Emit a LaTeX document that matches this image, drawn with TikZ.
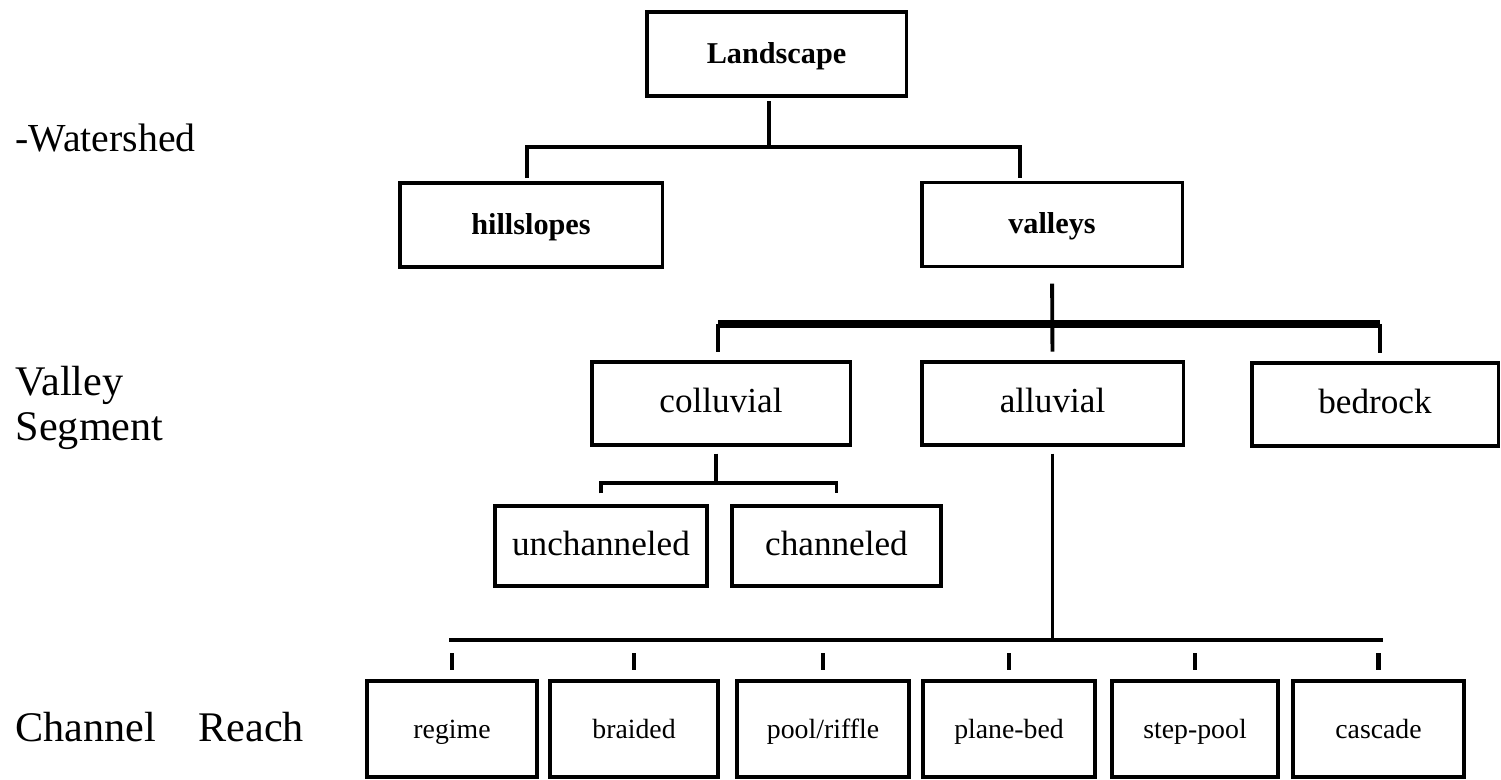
\documentclass[tikz,border=0pt]{standalone}
\usepackage{fontspec}
\setmainfont{Liberation Serif}
\begin{document}
\begin{tikzpicture}[x=0.01cm, y=-0.01cm,
  box/.style={draw, line width=0.9pt, inner sep=0pt, align=center, text height=1.6ex, text depth=0.45ex},
  toplevel/.style={box, font=\fontsize{8.6}{10}\selectfont\bfseries, minimum height=0.84cm},
  seglevel/.style={box, font=\fontsize{10}{12}\selectfont, minimum height=0.83cm},
  reachbox/.style={box, font=\fontsize{7.9}{9}\selectfont, minimum height=0.96cm},
  link/.style={line width=1.1pt},
  heavy/.style={line width=2pt},
  tick/.style={line width=1.2pt},
  scalelabel/.style={anchor=west, inner sep=0pt, align=left, font=\fontsize{12}{13}\selectfont}]
  \useasboundingbox (0,0) rectangle (1501,780);

  % scale labels on the left
  \node[scalelabel, font=\fontsize{11.3}{13}\selectfont] (wshed) at (15,138) {-Watershed};
  \node[scalelabel] (vseg) at (15,408) {Valley\\Segment};
  \node[scalelabel] (creach) at (15,727) {Channel\quad Reach};

  % watershed level
  \node[toplevel, minimum width=2.59cm] (land) at (776.5,54) {Landscape};
  \node[toplevel, minimum width=2.62cm] (hill) at (531,225) {hillslopes};
  \node[toplevel, minimum width=2.60cm] (valley) at (1052,224.5) {valleys};

  % valley segments
  \node[seglevel, minimum width=2.58cm] (colluv) at (721,403.5) {colluvial};
  \node[seglevel, minimum width=2.61cm] (alluv) at (1052.5,403.5) {alluvial};
  \node[seglevel, minimum width=2.46cm] (bedrock) at (1375,404.5) {bedrock};
  \node[seglevel, minimum width=2.12cm, minimum height=0.80cm] (unchan) at (601,546) {unchanneled};
  \node[seglevel, minimum width=2.09cm, minimum height=0.80cm] (chan) at (836.5,546) {channeled};

  % channel reaches
  \foreach \cx/\w/\txt [count=\i] in {452/1.70/regime, 634/1.68/braided, 823/1.72/{pool/riffle},
      1009/1.72/plane-bed, 1195/1.66/step-pool, 1378.5/1.71/cascade}
    \node[reachbox, minimum width=\w cm] (reach\i) at (\cx,729) {\txt};

  \coordinate (lsplit) at (769,147);
  \coordinate (hdrop) at (527,147);
  \coordinate (vdrop) at (1020,147);
  \draw[link, shorten <=1.1pt] (land.south -| lsplit) -- (lsplit);
  \draw[link, shorten <=0.9pt, shorten >=0.9pt] (hill.north -| hdrop) -- (hdrop) -- (vdrop) -- (valley.north -| vdrop);

  \coordinate (mleft) at (718,324);
  \coordinate (mright) at (1380,324);
  \draw[link, shorten <=4.4pt, shorten >=2.5pt] (valley.south) -- (alluv.north);
  \draw[heavy] (mleft) -- (mright);
  \draw[link, shorten >=2.5pt] (mleft) -- (colluv.north -| mleft);
  \draw[link, shorten >=2.5pt] (mright) -- (bedrock.north -| mright);

  \coordinate (csplit) at (716,483);
  \draw[link, shorten <=2pt] (colluv.south -| csplit) -- (csplit);
  \draw[link, shorten <=3.1pt, shorten >=3.1pt] (unchan.north) |- (csplit) -| (chan.north);

  \coordinate (rline-w) at (449,640);
  \coordinate (rline-e) at (1383,640);
  \draw[link, shorten <=2pt] (alluv.south) -- (alluv.south |- rline-w);
  \draw[line width=0.9pt] (rline-w) -- (rline-e);
  \foreach \i in {1,...,6}
    \draw[tick, shorten <=3.7pt, shorten >=2.6pt] (reach\i.north |- rline-w) -- (reach\i.north);
\end{tikzpicture}
\end{document}
